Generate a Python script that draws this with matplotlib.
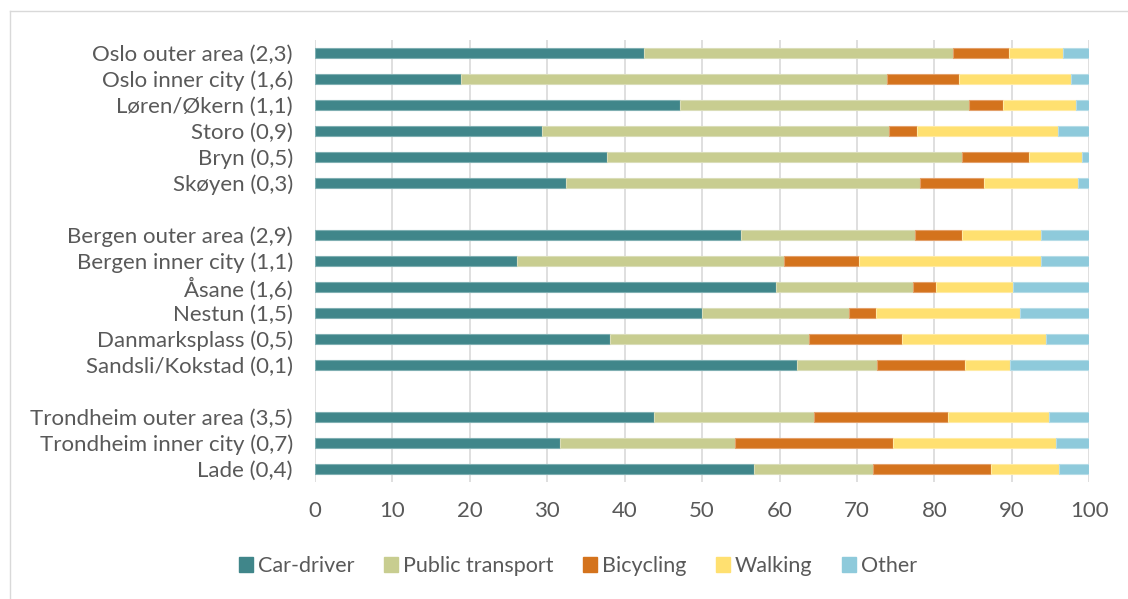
import matplotlib
matplotlib.use("Agg")
import matplotlib.pyplot as plt
from matplotlib.lines import Line2D
import numpy as np

plt.rcParams['font.family'] = ['Lato', 'DejaVu Sans']

categories = ["Oslo outer area (2,3)", "Oslo inner city (1,6)", "Løren/Økern (1,1)",
              "Storo (0,9)", "Bryn (0,5)", "Skøyen (0,3)", "",
              "Bergen outer area (2,9)", "Bergen inner city (1,1)", "Åsane (1,6)",
              "Nestun (1,5)", "Danmarksplass (0,5)", "Sandsli/Kokstad (0,1)", "",
              "Trondheim outer area (3,5)", "Trondheim inner city (0,7)", "Lade (0,4)"]

car_driver = [42.5, 18.9, 47.1, 29.3, 37.7, 32.4, 0, 55.0, 26.1, 59.5, 50.0, 38.1, 62.3, 0, 43.8, 31.6, 56.7]
public_transport = [39.9, 55.0, 37.4, 44.8, 45.9, 45.7, 0, 22.5, 34.5, 17.7, 19.0, 25.7, 10.3, 0, 20.6, 22.6, 15.4]
bicycling = [7.2, 9.3, 4.4, 3.7, 8.6, 8.3, 0, 6.1, 9.7, 3.0, 3.4, 12.0, 11.3, 0, 17.3, 20.4, 15.2]
walking = [7.0, 14.4, 9.4, 18.1, 6.8, 12.1, 0, 10.2, 23.5, 10.0, 18.6, 18.6, 5.9, 0, 13.1, 21.1, 8.8]
other = [3.4, 2.4, 1.7, 4.1, 1.0, 1.5, 0, 6.2, 6.2, 9.8, 9.0, 5.6, 10.2, 0, 5.2, 4.3, 3.9]

series_names = ["Car-driver", "Public transport", "Bicycling", "Walking", "Other"]
series = [car_driver, public_transport, bicycling, walking, other]
colors = ["#40868A", "#C8CD90", "#D4731D", "#FFE070", "#8ECADB"]
edge_colors = ["#7FAFB2", "#DADDB8", "#E3A06A", "#FFEBA4", "#B5DCE7"]

fig = plt.figure(figsize=(11.28, 5.99), dpi=100)
ax = fig.add_axes([315/1128, 1-482/599, (1089.3-315)/1128, (482-40)/599])

y = np.arange(len(categories))
mask = np.array([c != "" for c in categories])
left = np.zeros(len(categories))
for name, vals, c, ec in zip(series_names, series, colors, edge_colors):
    vals = np.array(vals, dtype=float)
    ax.barh(y[mask], vals[mask], left=left[mask], height=0.39, color=c, edgecolor=ec,
            linewidth=0.8, label=name, zorder=3)
    left += vals

ax.set_ylim(len(categories)-0.5, -0.5)
ax.set_xlim(0, 100)
ax.set_xticks(np.arange(0, 101, 10))
ax.set_yticks(y)
ax.set_yticklabels(categories)
ax.tick_params(axis='both', length=0, labelsize=16, colors='#595959')
ax.tick_params(axis='x', pad=14)
ax.tick_params(axis='y', pad=16)
ax.grid(axis='x', color='#D9D9D9', linewidth=1.2, zorder=0)
for s in ax.spines.values():
    s.set_visible(False)

leg = fig.legend(handles=[plt.Rectangle((0, 0), 1, 1, color=c) for c in colors], labels=series_names,
                 loc='center', bbox_to_anchor=(578/1128, 1-566/599), ncol=5, frameon=False,
                 fontsize=15.5, handlelength=0.65, handleheight=0.65, handletextpad=0.25,
                 columnspacing=1.35)
for t in leg.get_texts():
    t.set_color('#595959')

# chart area border (top and left visible)
fig.add_artist(Line2D([10/1128, 10/1128], [0, 1-11/599], transform=fig.transFigure, color='#D9D9D9', linewidth=1))
fig.add_artist(Line2D([10/1128, 1], [1-11/599, 1-11/599], transform=fig.transFigure, color='#D9D9D9', linewidth=1))

fig.savefig("out.png", dpi=100)
